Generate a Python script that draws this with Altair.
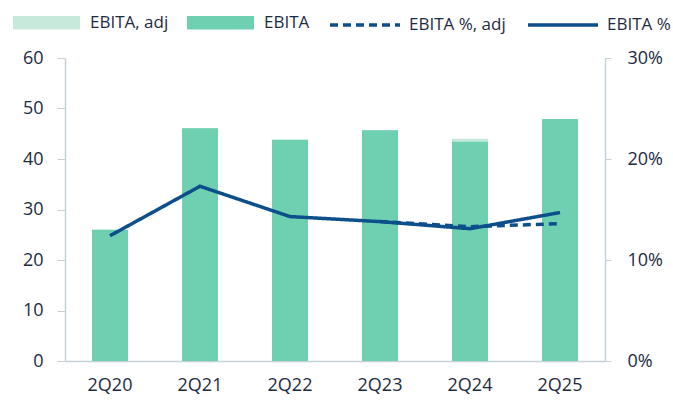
import altair as alt
import pandas as pd

quarters = ["2Q20", "2Q21", "2Q22", "2Q23", "2Q24", "2Q25"]
ebita = [26.0, 46.1, 43.8, 45.7, 43.4, 47.9]
ebita_adj = [26.0, 46.1, 43.8, 45.7, 44.0, 47.9]
margin = [0.124, 0.173, 0.143, 0.138, 0.131, 0.147]
adj_quarters = ["2Q23", "2Q24", "2Q25"]
margin_adj = [0.138, 0.133, 0.136]

bar_names = ["EBITA, adj", "EBITA"]
line_names = ["EBITA %, adj", "EBITA %"]

GREEN = "#6ecfb1"
PATTERN = "#c6e9db"
BLUE = "#0d4f8b"
TEXT = "#1d2b3f"
AXIS = "#c5d1d7"
FONT = "Open Sans"

bars = pd.DataFrame({"q": quarters * 2,
                     "v": ebita_adj + ebita,
                     "s": [bar_names[0]] * 6 + [bar_names[1]] * 6})
lines = pd.DataFrame({"q": adj_quarters + quarters,
                      "m": margin_adj + margin,
                      "s": [line_names[0]] * 3 + [line_names[1]] * 6})

x = alt.X("q:N", sort=quarters, title=None,
          scale=alt.Scale(paddingInner=0.6, paddingOuter=0.3),
          axis=alt.Axis(labelAngle=0, ticks=False, labelPadding=15, domainColor=AXIS,
                        domainWidth=1.5, labelFontSize=18, labelColor=TEXT, labelFont=FONT))

bar_layer = alt.Chart(bars).mark_bar().encode(
    x=x,
    y=alt.Y("v:Q", title=None, stack=None, scale=alt.Scale(domain=[0, 60]),
            axis=alt.Axis(values=[0, 10, 20, 30, 40, 50, 60], tickSize=8, labelPadding=14,
                          domainColor=AXIS, tickColor=AXIS, domainWidth=1.5, grid=False,
                          labelFontSize=18, labelColor=TEXT, labelFont=FONT)),
    fill=alt.Fill("s:N", scale=alt.Scale(domain=bar_names, range=[PATTERN, GREEN]),
                  legend=alt.Legend(title=None, orient="none", legendX=-53, legendY=-70,
                                    direction="horizontal",
                                    symbolType="M-1,-0.2L1,-0.2L1,0.2L-1,0.2Z",
                                    symbolSize=4489, labelOffset=9, columnPadding=17,
                                    labelFontSize=17, labelColor=TEXT, labelFont=FONT)),
)

line_layer = alt.Chart(lines).mark_line(strokeWidth=3.5, color=BLUE).encode(
    x=alt.X("q:N", sort=quarters),
    y=alt.Y("m:Q", title=None, scale=alt.Scale(domain=[0, 0.3]),
            axis=alt.Axis(orient="right", values=[0, 0.1, 0.2, 0.3], format=".0%",
                          tickSize=6, labelPadding=16, domainColor=AXIS, tickColor=AXIS,
                          domainWidth=1.5, grid=False,
                          labelFontSize=18, labelColor=TEXT, labelFont=FONT)),
    strokeDash=alt.StrokeDash("s:N", scale=alt.Scale(domain=line_names, range=[[8, 5], [1, 0]]),
                              legend=alt.Legend(title=None, orient="none", legendX=263, legendY=-70,
                                                direction="horizontal", symbolType="stroke",
                                                symbolSize=4900, symbolStrokeWidth=3.5,
                                                symbolStrokeColor=BLUE, labelOffset=7,
                                                columnPadding=15, labelFontSize=17,
                                                labelColor=TEXT, labelFont=FONT)),
    detail="s:N",
)

chart = alt.layer(bar_layer, line_layer).resolve_scale(
    y="independent", fill="independent", strokeDash="independent"
).properties(
    width=540, height=303,
    padding={"left": 65, "top": 58, "right": 68, "bottom": 40},
    autosize=alt.AutoSizeParams(type="none"),
    background="white",
).configure_view(stroke=None)

chart.save("out.html", embed_options={"renderer": "svg", "actions": False})
